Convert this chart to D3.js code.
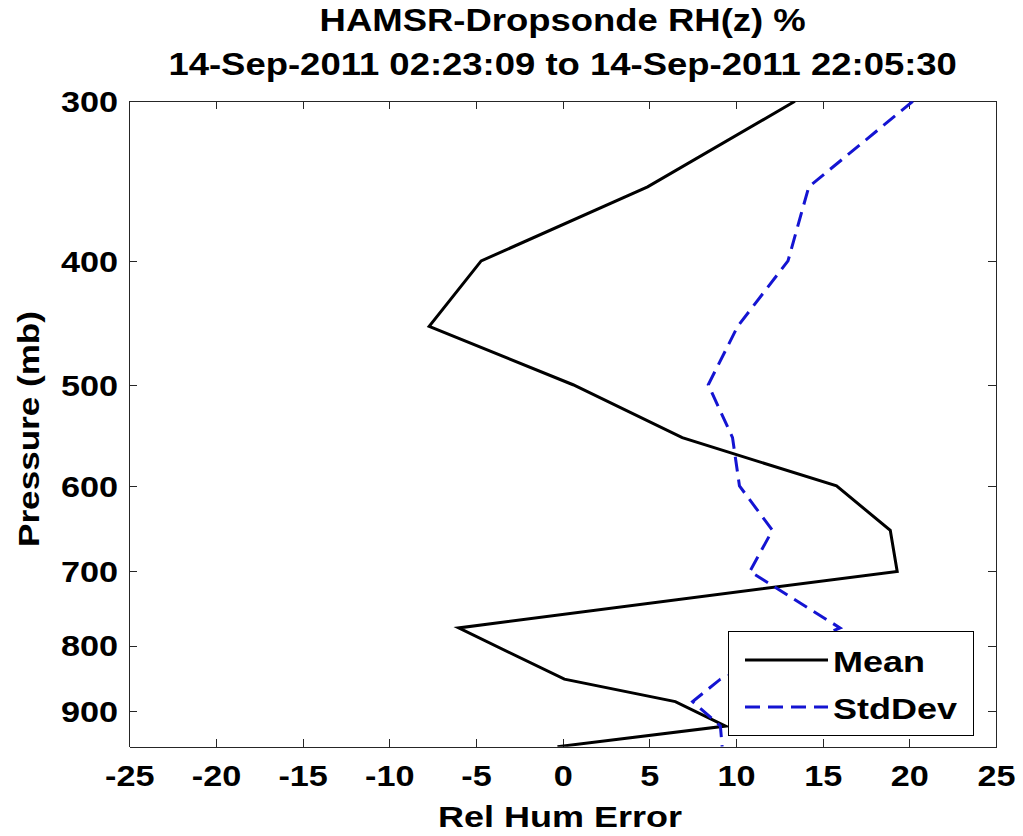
<!DOCTYPE html>
<html>
<head>
<meta charset="utf-8">
<script src="https://cdn.jsdelivr.net/npm/d3@7"></script>
<style>
    body { margin: 0; background: #fff; }
    svg { display: block; font-family: 'Liberation Sans', Arial, sans-serif; font-weight: bold; }
    .axis path, .axis line { stroke: #262626; stroke-width: 1; shape-rendering: crispEdges; }
    .axis text { fill: #000; font-size: 29px; }
</style>
</head>
<body>
<svg id="chart" width="1023" height="836"></svg>
<script>
// pressure levels (mb) and the errors read from the profile
var pressureLevels = [300, 350, 400, 450, 500, 550, 600, 650, 700, 775, 850, 885, 925, 960];
var meanError = [13.4, 4.9, -4.7, -7.7, 0.6, 6.9, 15.8, 18.9, 19.3, -6.0, 0.1, 6.5, 9.4, -0.3];
var stdError = [20.2, 14.2, 13.0, 10.1, 8.4, 9.8, 10.2, 12.1, 10.8, 16.0, 9.1, 7.5, 9.1, 9.2];
var xTicks = [-25, -20, -15, -10, -5, 0, 5, 10, 15, 20, 25];
var yTicks = [300, 400, 500, 600, 700, 800, 900];
var titleLines = ['HAMSR-Dropsonde RH(z) %', '14-Sep-2011 02:23:09 to 14-Sep-2011 22:05:30'];

(function () {
    var svg = d3.select('#chart');
    var plotLeft = 129.3, plotRight = 996, plotTop = 101.3, plotBottom = 746.7;
    var stretch = 1.18;
    var plain = function (d) { return String(d); };

    var xScale = d3.scaleLinear().domain([-25, 25]).range([plotLeft, plotRight]);
    var yScale = d3.scaleLog().domain([300, 960]).range([plotTop, plotBottom]);

    // axes, ticks pointing inward on all four sides
    svg.append('g')
        .attr('class', 'axis')
        .attr('transform', 'translate(0,' + plotBottom + ')')
        .call(d3.axisBottom(xScale).tickValues(xTicks).tickSizeInner(-8).tickSizeOuter(0).tickPadding(18.5).tickFormat(plain))
        .selectAll('text')
        .attr('transform', 'scale(' + stretch + ',1)');
    svg.append('g')
        .attr('class', 'axis')
        .attr('transform', 'translate(0,' + plotTop + ')')
        .call(d3.axisTop(xScale).tickValues(xTicks).tickSizeInner(-8).tickSizeOuter(0).tickFormat(''));
    svg.append('g')
        .attr('class', 'axis')
        .attr('transform', 'translate(' + plotLeft + ',0)')
        .call(d3.axisLeft(yScale).tickValues(yTicks).tickSizeInner(-8).tickSizeOuter(0).tickPadding(9.5).tickFormat(plain))
        .selectAll('text')
        .attr('dy', '0.36em')
        .attr('transform', 'scale(' + stretch + ',1)');
    svg.append('g')
        .attr('class', 'axis')
        .attr('transform', 'translate(' + plotRight + ',0)')
        .call(d3.axisRight(yScale).tickValues(yTicks).tickSizeInner(-8).tickSizeOuter(0).tickFormat(''));

    svg.append('defs').append('clipPath').attr('id', 'plotClip')
        .append('rect')
        .attr('x', plotLeft).attr('y', plotTop)
        .attr('width', plotRight - plotLeft).attr('height', plotBottom - plotTop);

    var meanData = pressureLevels.map(function (p, i) { return { p: p, v: meanError[i] }; });
    var stdData = pressureLevels.map(function (p, i) { return { p: p, v: stdError[i] }; });

    var line = d3.line()
        .x(function (d) { return xScale(d.v); })
        .y(function (d) { return yScale(d.p); });

    var plot = svg.append('g').attr('clip-path', 'url(#plotClip)');
    plot.append('path')
        .attr('d', line(meanData))
        .attr('fill', 'none')
        .attr('stroke', '#000')
        .attr('stroke-width', 3);
    plot.append('path')
        .attr('d', line(stdData))
        .attr('fill', 'none')
        .attr('stroke', '#1414d2')
        .attr('stroke-width', 3)
        .attr('stroke-dasharray', '15,8');

    // titles and labels
    titleLines.forEach(function (t, i) {
        svg.append('text')
            .attr('transform', 'translate(' + ((plotLeft + plotRight) / 2) + ',' + (31 + i * 44) + ') scale(1.14,1)')
            .attr('text-anchor', 'middle')
            .style('font-size', '32px')
            .text(t);
    });
    svg.append('text')
        .attr('transform', 'translate(560,827) scale(1.2,1)')
        .attr('text-anchor', 'middle')
        .style('font-size', '30px')
        .text('Rel Hum Error');
    svg.append('text')
        .attr('transform', 'translate(39,' + ((plotTop + plotBottom) / 2 + 5) + ') rotate(-90) scale(1.17,1)')
        .attr('text-anchor', 'middle')
        .style('font-size', '30px')
        .text('Pressure (mb)');

    // legend
    var legend = svg.append('g');
    legend.append('rect')
        .attr('x', 728.5).attr('y', 631.5)
        .attr('width', 245).attr('height', 104)
        .attr('fill', '#fff')
        .attr('stroke', '#000')
        .attr('stroke-width', 1);
    var legendItems = [
        { label: 'Mean', color: '#000', dash: null, y: 660 },
        { label: 'StdDev', color: '#1414d2', dash: '15,8', y: 707 }
    ];
    legendItems.forEach(function (d) {
        legend.append('line')
            .attr('x1', 745).attr('x2', 828)
            .attr('y1', d.y).attr('y2', d.y)
            .attr('stroke', d.color)
            .attr('stroke-width', 3)
            .attr('stroke-dasharray', d.dash);
        legend.append('text')
            .attr('transform', 'translate(833,' + (d.y + 12) + ') scale(1.2,1)')
            .style('font-size', '30px')
            .text(d.label);
    });
})();
</script>
</body>
</html>
